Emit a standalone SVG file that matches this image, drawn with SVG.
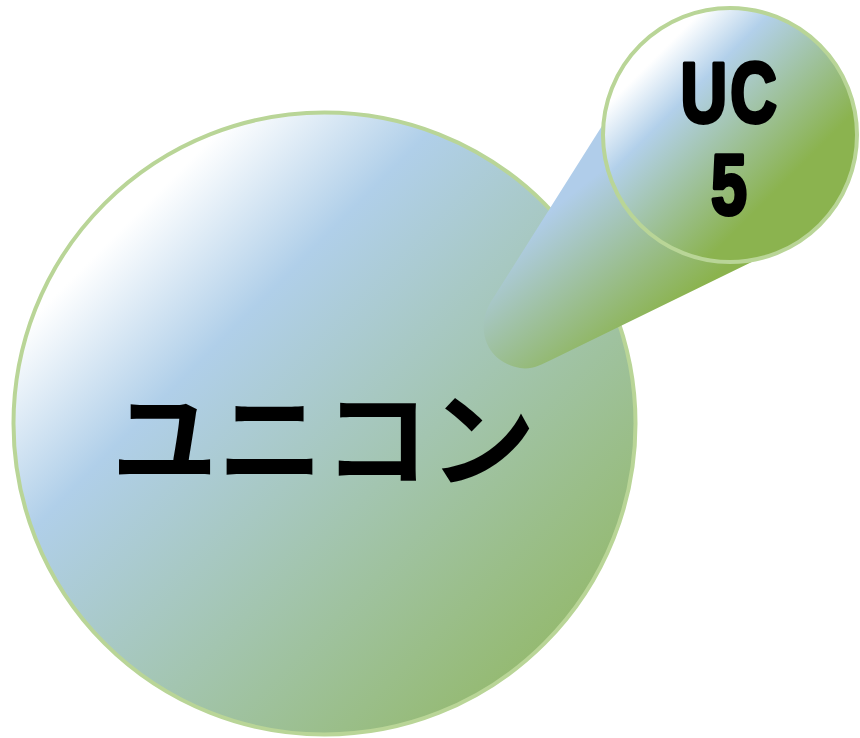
<svg xmlns="http://www.w3.org/2000/svg" width="860" height="738" viewBox="0 0 860 738">
  <defs>
    <linearGradient id="gBig" x1="0" y1="0" x2="1" y2="1">
      <stop offset="0.18" stop-color="#ffffff"/>
      <stop offset="0.35" stop-color="#b0cfe9"/>
      <stop offset="1" stop-color="#8db450"/>
    </linearGradient>
    <linearGradient id="gSmall" x1="0" y1="0" x2="1" y2="1">
      <stop offset="0.2" stop-color="#ffffff"/>
      <stop offset="0.34" stop-color="#b2d0ea"/>
      <stop offset="0.7" stop-color="#8bb34f"/>
    </linearGradient>
    <linearGradient id="gConn" gradientUnits="userSpaceOnUse" x1="545" y1="215" x2="640" y2="335">
      <stop offset="0" stop-color="#b0cdea"/>
      <stop offset="1" stop-color="#8bb34e"/>
    </linearGradient>
    <style>
      .bubble { stroke: #b9d597; stroke-width: 4; }
      .jp { font-family: "Noto Sans CJK JP", "Noto Sans", sans-serif; font-weight: 700; fill: #000; }
      .lat { font-family: "Liberation Sans", Arial, sans-serif; font-weight: 700; fill: #000; stroke: #000; stroke-width: 4; stroke-linejoin: round; }
    </style>
  </defs>
  <g id="node-unicon">
    <circle class="bubble" cx="324.5" cy="423.5" r="311" fill="url(#gBig)"/>
    <text class="jp" x="323.5" y="478" font-size="106" text-anchor="middle">ユニコン</text>
  </g>
  <g id="connectors">
    <path d="M 607,118 L 492,300 C 474,328 486,362 520,368 C 531,370 541,365 551,360 L 772,252 Z" fill="url(#gConn)"/>
  </g>
  <g id="node-uc5">
    <circle class="bubble" cx="730" cy="135" r="127" fill="url(#gSmall)"/>
    <g transform="translate(730.5,0) scale(0.76,1)">
      <text class="lat" font-size="85" text-anchor="middle"><tspan x="-35" y="122">U</tspan><tspan x="30.5" y="122">C</tspan></text>
      <text class="lat" x="-2" y="214" font-size="85" text-anchor="middle">5</text>
    </g>
  </g>
</svg>
